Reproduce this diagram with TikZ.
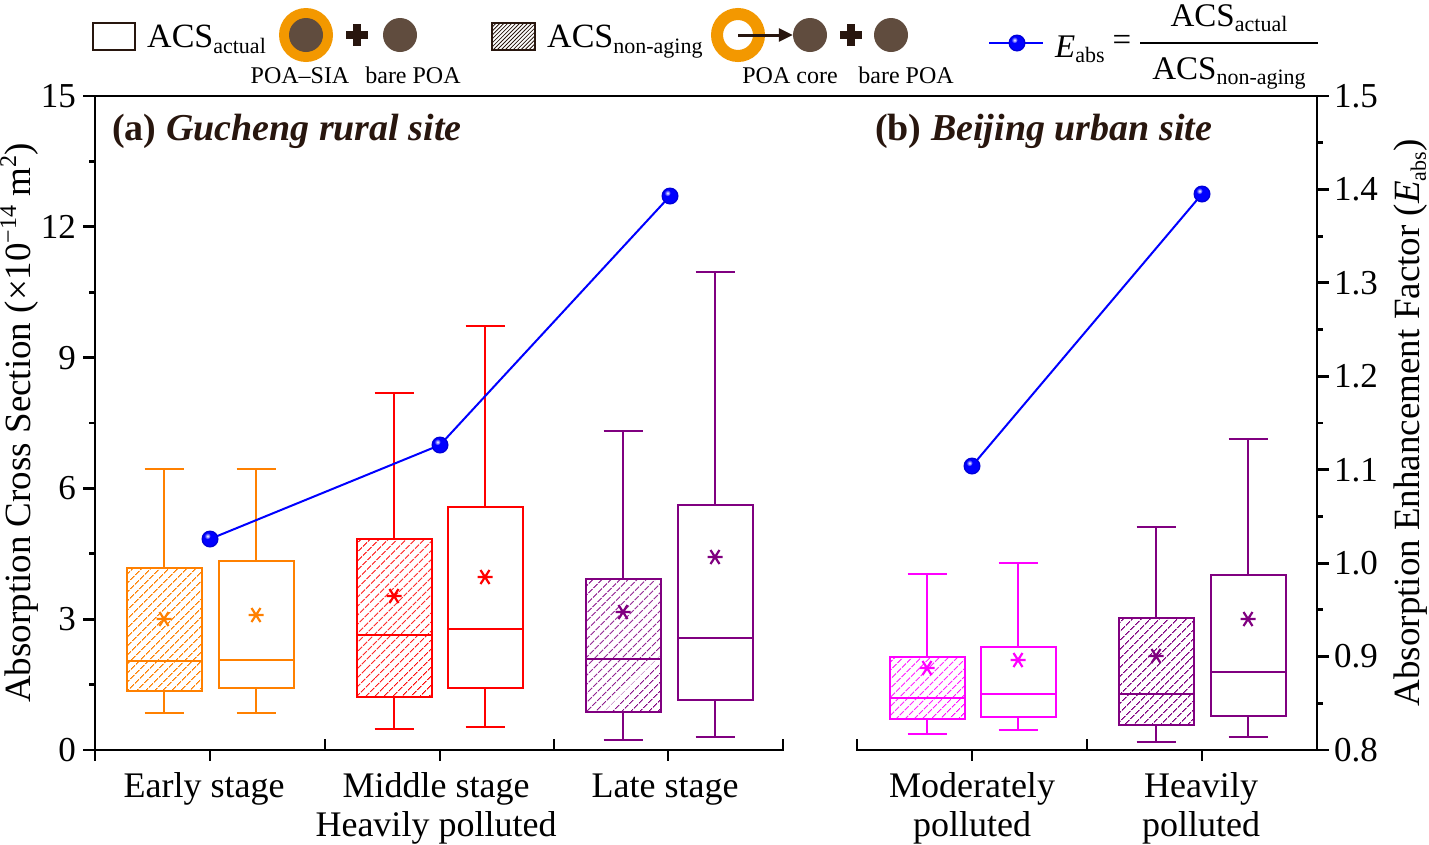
\documentclass[tikz,border=0pt]{standalone}
\usepackage{fontspec}
\setmainfont{Liberation Serif}
\usetikzlibrary{patterns.meta,arrows.meta}
\definecolor{cOr}{RGB}{255,128,0}
\definecolor{cRd}{RGB}{255,0,0}
\definecolor{cPu}{RGB}{128,0,128}
\definecolor{cMg}{RGB}{255,0,255}
\definecolor{cBl}{RGB}{0,0,255}
\definecolor{ttl}{RGB}{40,22,14}
\definecolor{poa}{RGB}{96,76,62}
\definecolor{sia}{RGB}{243,152,0}
\newcommand\fs[1]{\fontsize{#1}{#1}\selectfont}
\newcommand\subl[1]{\raisebox{-6pt}{\fs{22}#1}}
\newcommand\subf[1]{\raisebox{-5pt}{\fs{22}#1}}
\newcommand\sups[1]{\raisebox{14pt}{\fs{24}#1}}
\newcommand\bx[9]{%
 \draw[boxline,#1,#3] ({#2-37.5},#4) rectangle ({#2+37.5},#5);
 \draw[boxline,#1] ({#2-37.5},#6) -- ({#2+37.5},#6)
   (#2,#4) -- (#2,#8) ({#2-19.5},#8) -- ({#2+19.5},#8)
   (#2,#5) -- (#2,#9) ({#2-19.5},#9) -- ({#2+19.5},#9);
 \draw[#1,line width=2.2pt] ({#2-7.5},#7) -- ({#2+7.5},#7) ({#2-4.5},{#7-7}) -- ({#2+4.5},{#7+7}) ({#2+4.5},{#7-7}) -- ({#2-4.5},{#7+7});
}
\newcommand\blueball[1]{%
 \fill[cBl!85!black] (#1) circle (8.5pt);
 \fill[cBl] (#1) circle (7pt);
 \shade[inner color=white,outer color=cBl] ([shift={(-2.5,-3)}]#1) circle (3.2pt);
}
\tikzset{
 boxline/.style={line width=2pt},
 hatch/.style={pattern={Lines[angle=45,distance=6.4pt,line width=1.3pt]},pattern color=#1},
 axisline/.style={line width=2.8pt,black},
 lbl/.style={font=\fs{36},inner sep=0pt},
 leg/.style={font=\fs{24},inner sep=0pt,anchor=base},
 ball/.style={circle,inner sep=0pt,minimum size=16pt},
 dot/.style={circle,inner sep=0pt,minimum size=34pt,fill=poa},
}
\begin{document}
\begin{tikzpicture}[x=1pt,y=-1pt]
\useasboundingbox (0,0) rectangle (1429,844);
% ---- boxes
\bx{cOr}{164}{hatch=cOr}{568}{691}{661}{619}{469}{713}
\bx{cOr}{256}{}{561}{688}{660}{615}{469}{713}
\bx{cRd}{394}{hatch=cRd}{539}{697}{635}{596}{393}{729}
\bx{cRd}{485}{}{507}{688}{629}{577}{326}{727}
\bx{cPu}{623}{hatch=cPu}{579}{712}{659}{612}{431}{740}
\bx{cPu}{715}{}{505}{700}{638}{557}{272}{737}
\bx{cMg}{927}{hatch=cMg}{657}{719}{698}{668}{574}{734}
\bx{cMg}{1018}{}{647}{717}{694}{660}{563}{730}
\bx{cPu}{1156}{hatch=cPu}{618}{725}{694}{656}{527}{742}
\bx{cPu}{1248}{}{575}{716}{672}{619}{439}{737}
% ---- Eabs line
\node[ball] (e1) at (210,539) {};
\node[ball] (e2) at (440,445) {};
\node[ball] (e3) at (670,196) {};
\node[ball] (e4) at (972,466) {};
\node[ball] (e5) at (1202,194) {};
\draw[cBl,line width=2pt] (e1.center) -- (e2.center) -- (e3.center);
\draw[cBl,line width=2pt] (e4.center) -- (e5.center);
\foreach \n in {e1,e2,e3,e4,e5} {\blueball{\n.center}}
% ---- axes
\draw[axisline] (83,96) -- (1329,96);
\draw[axisline] (95,96) -- (95,761);
\draw[axisline] (95,750) -- (783,750) -- (783,739);
\draw[axisline] (857,739) -- (857,750) -- (1317,750);
\draw[axisline] (1317,96) -- (1317,750) -- (1329,750);
\foreach \v in {0,...,4} \draw[axisline] (83,{750-130.8*\v}) -- (95,{750-130.8*\v});
\foreach \v in {0,...,4} \draw[axisline] (89,{750-130.8*\v-65.4}) -- (95,{750-130.8*\v-65.4});
\foreach \v in {1,...,6} \draw[axisline] (1317,{750-93.43*\v}) -- (1329,{750-93.43*\v});
\foreach \v in {0,...,6} \draw[axisline] (1317,{750-93.43*\v-46.7}) -- (1323,{750-93.43*\v-46.7});
\foreach \x in {210,440,668,972,1202} \draw[axisline] (\x,750) -- (\x,761);
\foreach \x in {325,554,1087} \draw[axisline] (\x,750) -- (\x,739);
% ---- tick labels
\foreach \v/\t in {0/0,1/3,2/6,3/9,4/12,5/15} \node[lbl,font=\fs{35},anchor=east] at (76,{750-130.8*\v}) {\t};
\foreach \v/\t in {0/0.8,1/0.9,2/1.0,3/1.1,4/1.2,5/1.3,6/1.4,7/1.5} \node[lbl,font=\fs{35},anchor=west] at (1334,{750-93.43*\v}) {\t};
% ---- axis titles
\node[lbl,font=\fs{37},rotate=90] at (19,423) {Absorption Cross Section (×10\sups{−14} m\sups{2})};
\node[lbl,font=\fs{37},rotate=90] at (1411,423) {Absorption Enhancement Factor (\textit{E}\subl{abs})};
% ---- category labels
\node[lbl,anchor=base] at (204,797) {Early stage};
\node[lbl,anchor=base] at (436,797) {Middle stage};
\node[lbl,anchor=base] at (436,836) {Heavily polluted};
\node[lbl,anchor=base] at (665,797) {Late stage};
\node[lbl,anchor=base] at (972,797) {Moderately};
\node[lbl,anchor=base] at (972,836) {polluted};
\node[lbl,anchor=base] at (1201,797) {Heavily};
\node[lbl,anchor=base] at (1201,836) {polluted};
% ---- panel titles
\node[font=\fs{38}\bfseries,text=ttl,anchor=base west,inner sep=0pt] at (112,140) {(a) \textit{Gucheng rural site}};
\node[font=\fs{38}\bfseries,text=ttl,anchor=base west,inner sep=0pt] at (875,140) {(b) \textit{Beijing urban site}};
% ---- legend 1
\draw[line width=1.5pt,ttl] (93,23) rectangle (135,50);
\node[lbl,font=\fs{34},anchor=base west] at (147,47) {ACS\subl{actual}};
\node[circle,inner sep=0pt,minimum size=54pt,fill=sia] (r1) at (306,35) {};
\node[dot] (c1) at (306,35) {};
\fill[ttl] (346,31) rectangle (368,39);
\fill[ttl] (353,24) rectangle (361,46);
\node[dot] (c2) at (400,35) {};
\node[leg] at (300,83) {POA–SIA};
\node[leg] at (413,83) {bare POA};
% ---- legend 2
\draw[line width=1.5pt,ttl,pattern={Lines[angle=45,distance=2.8pt,line width=0.8pt]},pattern color=ttl] (492,23) rectangle (535,50);
\node[lbl,font=\fs{34},anchor=base west] at (547,47) {ACS\subl{non-aging}};
\node[circle,inner sep=0pt,minimum size=42pt,draw=sia,line width=12pt] (r2) at (738,35) {};
\node[dot] (c3) at (810,35) {};
\draw[ttl,line width=3pt,-{Triangle[length=14pt,width=13pt]}] (r2.center) -- (c3.west);
\fill[ttl] (840,31) rectangle (862,39);
\fill[ttl] (847,24) rectangle (855,46);
\node[dot] (c4) at (891,35) {};
\node[leg] at (790,83) {POA core};
\node[leg] at (906,83) {bare POA};
% ---- legend 3
\coordinate (l1) at (989,43);
\coordinate (l2) at (1043,43);
\draw[cBl,line width=2pt] (l1) -- (l2);
\node[ball] (lb) at (1017,43) {};
\blueball{lb.center}
\node[lbl,font=\fs{33},anchor=base west] at (1055,57) {\textit{E}\subf{abs}};
\node[lbl,font=\fs{33}] at (1122,43) {=};
\coordinate (f1) at (1140,43);
\coordinate (f2) at (1318,43);
\draw[line width=2pt] (f1) -- (f2);
\node[lbl,font=\fs{33},anchor=base] at (1229,26) {ACS\subf{actual}};
\node[lbl,font=\fs{33},anchor=base] at (1229,79) {ACS\subf{non-aging}};
\end{tikzpicture}
\end{document}
